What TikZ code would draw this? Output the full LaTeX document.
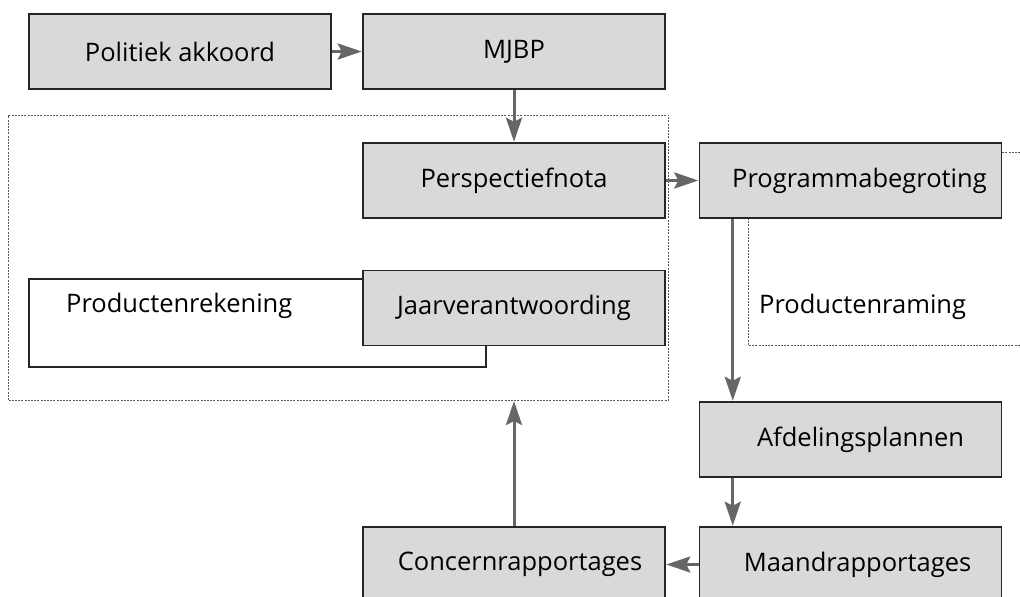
\documentclass[tikz,border=0pt]{standalone}
\usepackage{fontspec}
\setmainfont{Open Sans}
\usetikzlibrary{arrows.meta,positioning,calc}
\definecolor{boxgray}{RGB}{217,217,217}
\definecolor{arrowgray}{RGB}{102,102,102}
\definecolor{framegray}{RGB}{90,90,90}

\begin{document}
\begin{tikzpicture}[x=1pt,y=-1pt,
  stap/.style={rectangle, draw=black!85, line width=1.5pt, fill=boxgray, minimum width=302pt, minimum height=75pt, inner sep=0pt, font=\fontsize{25.5}{30}\selectfont},
  kader/.style={rectangle, draw=framegray, line width=1pt, dash pattern=on 2pt off 1.2pt, inner sep=0pt},
  vrij/.style={font=\fontsize{25.5}{30}\selectfont, anchor=west, inner sep=0pt},
  pijl/.style={draw=arrowgray, line width=3pt, -{Stealth[length=24pt,width=16pt,inset=4pt]}, shorten >=0.5pt}
]
\useasboundingbox (0,0) rectangle (1020,597);
\clip (0,0) rectangle (1020,597);

% omkadering rond de cyclus
\node[kader, minimum width=660pt, minimum height=285pt] (cyclus) at (338.5,257.5) {};

% productenrekening achter de jaarverantwoording
\node[rectangle, draw=black!85, line width=1.2pt, fill=white, minimum width=457pt, minimum height=88pt, inner sep=0pt] (prodrek) at (257.5,323) {};
\node[vrij] (prodrektekst) at (66,306) {Productenrekening};

% productenraming rechts
\coordinate (ramingA) at (748,218);
\coordinate (ramingB) at (748,345);
\coordinate (ramingC) at (1030,345);
\coordinate (lijnrechts) at (1030,152);
\draw[kader] (ramingA) -- (ramingB) -- (ramingC);
\node[vrij] (ramingtekst) at (759,307) {Productenraming};

\node[stap] (akkoord) at (180,51.5) {Politiek akkoord};
\node[stap] (mjbp) at (514,51.5) {MJBP};
\node[stap] (perspectief) at (514,180.5) {Perspectiefnota};
\node[stap] (begroting) at (850.5,180.5) {\hspace*{18pt}Programmabegroting};
\node[stap] (jaarverantw) at (514,308) {Jaarverantwoording};
\node[stap] (afdeling) at (850.5,439.5) {\hspace*{20pt}Afdelingsplannen};
\node[stap] (maand) at (850.5,564.5) {\hspace*{14pt}Maandrapportages};
\node[stap] (concern) at (514,564.5) {\hspace*{12pt}Concernrapportages};

\draw[kader] (begroting.east |- lijnrechts) -- (lijnrechts);

\draw[pijl] (akkoord) -- (mjbp);
\draw[pijl] (mjbp) -- (perspectief);
\draw[pijl] (perspectief) -- (begroting);
\draw[pijl] ([xshift=34pt]begroting.south west) -- ([xshift=34pt]afdeling.north west);
\draw[pijl] ([xshift=34pt]afdeling.south west) -- ([xshift=34pt]maand.north west);
\draw[pijl] (maand) -- (concern);
\draw[pijl] (concern.north) -- (concern.north |- cyclus.south);
\end{tikzpicture}
\end{document}
